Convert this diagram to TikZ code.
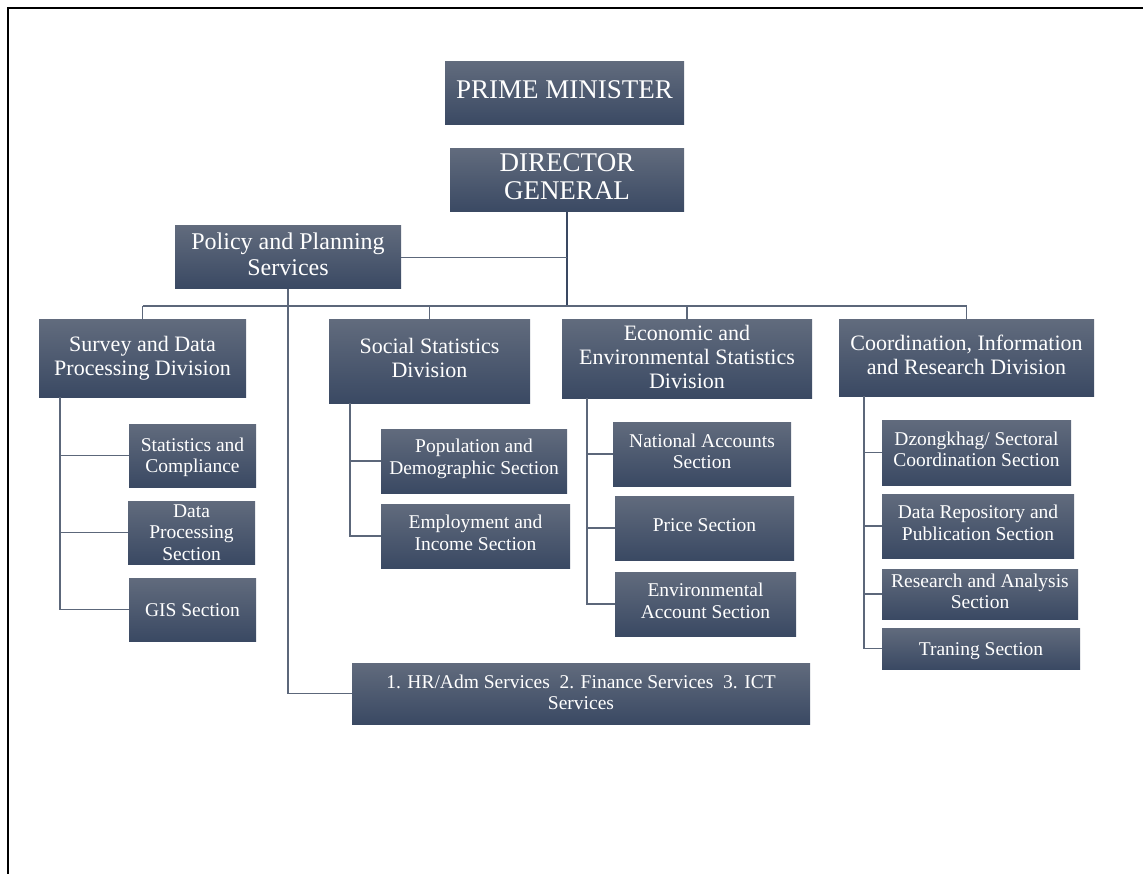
\documentclass[tikz,border=0pt]{standalone}
\usepackage{fontspec}
\setmainfont{Liberation Serif}
\definecolor{boxtop}{RGB}{97,107,125}
\definecolor{boxbot}{RGB}{58,73,99}
\definecolor{conn}{RGB}{92,103,122}
\definecolor{darkconn}{RGB}{58,72,98}
\begin{document}
\begin{tikzpicture}[x=1pt,y=-1pt,
  box/.style={draw=none,top color=boxtop,bottom color=boxbot,inner sep=0pt},
  txt/.style={text=white,align=center,inner sep=0pt},
  big/.style={txt,font=\fontsize{27}{28.5}\selectfont},
  mid/.style={txt,font=\fontsize{22}{24}\selectfont},
  sml/.style={txt,font=\fontsize{19.5}{21.5}\selectfont},
  cn/.style={draw=conn,line width=1.4pt},
  dcn/.style={draw=darkconn,line width=2pt}]
\useasboundingbox (0,0) rectangle (1143,874);
\draw[line width=2pt] (8,874) -- (8,8) -- (1143,8);

% boxes
\node[box,minimum width=239pt,minimum height=63pt] (PM) at (564.5,93.5) {};
\node[box,minimum width=234pt,minimum height=63pt] (DG) at (567,180.5) {};
\node[box,minimum width=226pt,minimum height=63pt] (PPS) at (288,257.5) {};
\node[box,minimum width=207pt,minimum height=77pt] (SDPD) at (142.5,358.5) {};
\node[box,minimum width=201pt,minimum height=83pt] (SSD) at (429.5,361.5) {};
\node[box,minimum width=250pt,minimum height=78pt] (EESD) at (687,359) {};
\node[box,minimum width=255pt,minimum height=76pt] (CIRD) at (966.5,358) {};
\node[box,minimum width=127pt,minimum height=63pt] (SC) at (192.5,455.5) {};
\node[box,minimum width=127pt,minimum height=63pt] (DP) at (191.5,532.5) {};
\node[box,minimum width=127pt,minimum height=63pt] (GIS) at (192.5,609.5) {};
\node[box,minimum width=186pt,minimum height=64pt] (POP) at (474,461) {};
\node[box,minimum width=189pt,minimum height=64pt] (EMP) at (475.5,536) {};
\node[box,minimum width=178pt,minimum height=64pt] (NA) at (702,454) {};
\node[box,minimum width=179pt,minimum height=64pt] (PR) at (704.5,528) {};
\node[box,minimum width=181pt,minimum height=64pt] (ENV) at (705.5,604) {};
\node[box,minimum width=189pt,minimum height=65pt] (DZ) at (976.5,452.5) {};
\node[box,minimum width=192pt,minimum height=64pt] (DR) at (978,526) {};
\node[box,minimum width=196pt,minimum height=50pt] (RA) at (980,594) {};
\node[box,minimum width=198pt,minimum height=41pt] (TR) at (981,648.5) {};
\node[box,minimum width=458pt,minimum height=61pt] (SVC) at (581,693.5) {};

% texts
\node[big] (PMt) at ([yshift=4pt]PM.center) {PRIME MINISTER};
\node[big] (DGt) at ([yshift=4pt]DG.center) {DIRECTOR\\GENERAL};
\node[txt,font=\fontsize{24}{25.5}\selectfont] (PPSt) at ([yshift=3pt]PPS.center) {Policy and Planning\\Services};
\node[mid] (SDPDt) at (SDPD.center) {Survey and Data\\Processing Division};
\node[mid] (SSDt) at ([yshift=3.5pt]SSD.center) {Social Statistics\\Division};
\node[mid] (EESDt) at ([yshift=2.5pt]EESD.center) {Economic and\\Environmental Statistics\\Division};
\node[mid] (CIRDt) at ([yshift=3pt]CIRD.center) {Coordination, Information\\and Research Division};
\node[sml] (SCt) at ([yshift=-2pt]SC.center) {Statistics and\\Compliance};
\node[sml] (DPt) at (DP.center) {Data\\Processing\\Section};
\node[sml] (GISt) at ([yshift=-1pt]GIS.center) {GIS Section};
\node[sml] (POPt) at ([yshift=2pt]POP.center) {Population and\\Demographic Section};
\node[sml] (EMPt) at ([yshift=3pt]EMP.center) {Employment and\\Income Section};
\node[sml] (NAt) at ([yshift=2.5pt]NA.center) {National Accounts\\Section};
\node[sml] (PRt) at ([yshift=3pt]PR.center) {Price Section};
\node[sml] (ENVt) at ([yshift=3pt]ENV.center) {Environmental\\Account Section};
\node[sml] (DZt) at ([yshift=3pt]DZ.center) {Dzongkhag/ Sectoral\\Coordination Section};
\node[sml] (DRt) at ([yshift=3pt]DR.center) {Data Repository and\\Publication Section};
\node[sml] (RAt) at ([yshift=2.5pt]RA.center) {Research and Analysis\\Section};
\node[sml] (TRt) at ([yshift=-3pt]TR.center) {Traning Section};
\node[sml] (SVCt) at ([yshift=1pt]SVC.center) {1. HR/Adm Services\ \ 2. Finance Services\ \ 3. ICT\\Services};

\coordinate (bus) at (0,306);
\coordinate (sdx) at (60,0);
\coordinate (ssx) at (350,0);
\coordinate (eex) at (587,0);
\coordinate (cix) at (864,0);

% top level
\draw[dcn] (DG.south) -- (DG.south |- bus);
\draw[cn] (PPS.east) -- (PPS.east -| DG.south);
\draw[cn] (SDPD.north |- bus) -- (CIRD.north |- bus);
\draw[cn] (SDPD.north) -- (SDPD.north |- bus);
\draw[cn] (SSD.north) -- (SSD.north |- bus);
\draw[cn] (EESD.north) -- (EESD.north |- bus);
\draw[cn] (CIRD.north) -- (CIRD.north |- bus);
\draw[cn] (PPS.south) |- (SVC.west);

% survey
\draw[cn] (sdx |- SDPD.south) |- (GIS.west);
\draw[cn] (sdx |- SC.west) -- (SC.west);
\draw[cn] (sdx |- DP.west) -- (DP.west);
% social
\draw[cn] (ssx |- SSD.south) |- (EMP.west);
\draw[cn] (ssx |- POP.west) -- (POP.west);
% economic
\draw[cn] (eex |- EESD.south) |- (ENV.west);
\draw[cn] (eex |- NA.west) -- (NA.west);
\draw[cn] (eex |- PR.west) -- (PR.west);
% coordination
\draw[cn] (cix |- CIRD.south) |- (TR.west);
\draw[cn] (cix |- DZ.west) -- (DZ.west);
\draw[cn] (cix |- DR.west) -- (DR.west);
\draw[cn] (cix |- RA.west) -- (RA.west);
\end{tikzpicture}
\end{document}
